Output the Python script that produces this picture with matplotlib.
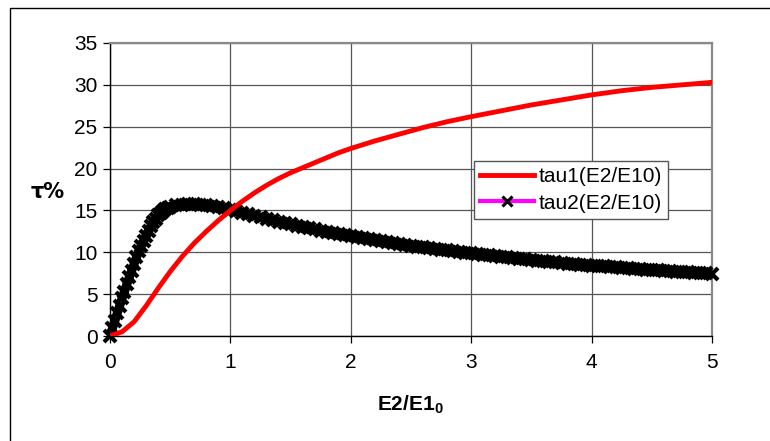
import matplotlib
matplotlib.use("Agg")
import matplotlib.pyplot as plt
from matplotlib.patches import Rectangle

plt.rcParams['font.family'] = ['Liberation Sans', 'DejaVu Sans']
plt.rcParams['mathtext.fontset'] = 'custom'
plt.rcParams['mathtext.bf'] = 'Liberation Sans:bold'
plt.rcParams['mathtext.rm'] = 'Liberation Sans'

# ---- data ----
tau1_x = [0, 0.1, 0.2, 0.3, 0.4, 0.5, 0.6, 0.7, 0.8, 0.9, 1.0, 1.1, 1.2, 1.3, 1.4,
          1.5, 1.6, 1.7, 1.8, 1.9, 2.0, 2.2, 2.4, 2.6, 2.8, 3.0, 3.25, 3.5, 3.75,
          4.0, 4.25, 4.5, 4.75, 5.0]
tau1_y = [0, 0.5, 1.7, 3.6, 5.7, 7.7, 9.5, 11.1, 12.5, 13.8, 15.0, 16.1, 17.1, 18.0, 18.8,
          19.5, 20.1, 20.7, 21.3, 21.9, 22.4, 23.3, 24.1, 24.9, 25.6, 26.2, 26.9, 27.6, 28.2,
          28.8, 29.3, 29.7, 30.0, 30.3]

tau2_x = [0.00, 0.02, 0.04, 0.06, 0.08, 0.10, 0.12, 0.14, 0.16, 0.18, 0.20, 0.22, 0.24,
          0.26, 0.28, 0.30, 0.32, 0.34, 0.36, 0.38, 0.40, 0.42, 0.44, 0.46, 0.48, 0.50,
          0.55, 0.60, 0.65, 0.70, 0.75, 0.80, 0.85, 0.90, 0.95, 1.00,
          1.05, 1.10, 1.15, 1.20, 1.25, 1.30, 1.35, 1.40, 1.45, 1.50,
          1.55, 1.60, 1.65, 1.70, 1.75, 1.80, 1.85, 1.90, 1.95, 2.00,
          2.05, 2.10, 2.15, 2.20, 2.25, 2.30, 2.35, 2.40, 2.45, 2.50,
          2.55, 2.60, 2.65, 2.70, 2.75, 2.80, 2.85, 2.90, 2.95, 3.00,
          3.05, 3.10, 3.15, 3.20, 3.25, 3.30, 3.35, 3.40, 3.45, 3.50,
          3.55, 3.60, 3.65, 3.70, 3.75, 3.80, 3.85, 3.90, 3.95, 4.00,
          4.05, 4.10, 4.15, 4.20, 4.25, 4.30, 4.35, 4.40, 4.45, 4.50,
          4.55, 4.60, 4.65, 4.70, 4.75, 4.80, 4.85, 4.90, 4.95, 5.00]
tau2_y = [0.0, 0.9, 1.8, 2.7, 3.6, 4.5, 5.3, 6.2, 7.0, 7.8, 8.6, 9.4, 10.1,
          10.8, 11.4, 12.0, 12.6, 13.1, 13.6, 14.0, 14.4, 14.7, 14.95, 15.15, 15.3, 15.45,
          15.6, 15.7, 15.75, 15.75, 15.7, 15.6, 15.5, 15.4, 15.25, 15.1,
          14.91, 14.72, 14.54, 14.36, 14.18, 14.01, 13.84, 13.67, 13.50, 13.34,
          13.18, 13.03, 12.88, 12.73, 12.59, 12.45, 12.31, 12.18, 12.05, 11.92,
          11.78, 11.66, 11.54, 11.42, 11.31, 11.20, 11.09, 10.98, 10.88, 10.78,
          10.68, 10.58, 10.49, 10.40, 10.31, 10.22, 10.13, 10.05, 9.97, 9.89,
          9.81, 9.72, 9.63, 9.55, 9.47, 9.39, 9.31, 9.23, 9.15, 9.08,
          9.01, 8.94, 8.87, 8.80, 8.73, 8.66, 8.60, 8.54, 8.48, 8.42,
          8.36, 8.31, 8.25, 8.20, 8.14, 8.09, 8.04, 7.99, 7.94, 7.89,
          7.84, 7.79, 7.75, 7.70, 7.65, 7.61, 7.57, 7.53, 7.49, 7.45]

x_ticks = [0, 1, 2, 3, 4, 5]
y_ticks = [0, 5, 10, 15, 20, 25, 30, 35]

fig = plt.figure(figsize=(7.7, 4.41), dpi=100)
fig.patches.append(Rectangle((10 / 770, -0.05), 1.1, (441 - 7.5) / 441 + 0.05,
                             transform=fig.transFigure, fill=False,
                             edgecolor='black', linewidth=1.0, zorder=0))

ax = fig.add_axes([110 / 770, (441 - 336) / 441, (712 - 110) / 770, (336 - 43) / 441])
ax.set_xlim(0, 5)
ax.set_ylim(0, 35)
ax.set_xticks(x_ticks)
ax.set_yticks(y_ticks)
ax.grid(True, color='#555555', linewidth=0.9)
ax.set_axisbelow(True)

for s in ['top', 'right']:
    ax.spines[s].set_color('#8a8a8a')
    ax.spines[s].set_linewidth(1.6)
for s in ['left', 'bottom']:
    ax.spines[s].set_color('black')
    ax.spines[s].set_linewidth(1.0)

ax.tick_params(axis='both', direction='out', length=5, width=0.9,
               labelsize=15, colors='black')
ax.tick_params(axis='x', pad=7)
ax.tick_params(axis='y', pad=4)

# dense marker band of tau2 (markers overlap into a solid black band)
ax.plot(tau2_x, tau2_y, color='black', linewidth=6.5, solid_capstyle='butt',
        zorder=2.9, clip_on=False)
ax.plot(tau2_x, tau2_y, color='magenta', linewidth=3, marker='x',
        markersize=9, markeredgewidth=3.0, markeredgecolor='black',
        markerfacecolor='black', label='tau2(E2/E10)', zorder=3, clip_on=False)
ax.plot(tau1_x, tau1_y, color='red', linewidth=3.5, label='tau1(E2/E10)', zorder=4)

handles, labels = ax.get_legend_handles_labels()
leg = ax.legend(handles[::-1], labels[::-1], loc='upper left',
                bbox_to_anchor=((474 - 110) / 602, (336 - 161) / 293),
                fontsize=15, frameon=True, fancybox=False, framealpha=1,
                edgecolor='#555555', handlelength=2.6, handletextpad=0.2,
                borderpad=0.3, labelspacing=0.35, borderaxespad=0)
leg.get_frame().set_linewidth(1.0)
for h in leg.legend_handles:
    h.set_markersize(7)
    h.set_markeredgewidth(2.2)

fig.text(410 / 770, 1 - 405 / 441, r'$\mathbf{E2/E1_0}$', ha='center', va='center',
         fontsize=15)
fig.text(48 / 770, 1 - 192 / 441, 'τ%', ha='center', va='center',
         fontsize=15, fontweight='bold', family=['DejaVu Sans'])

fig.savefig('out.png', dpi=100)
